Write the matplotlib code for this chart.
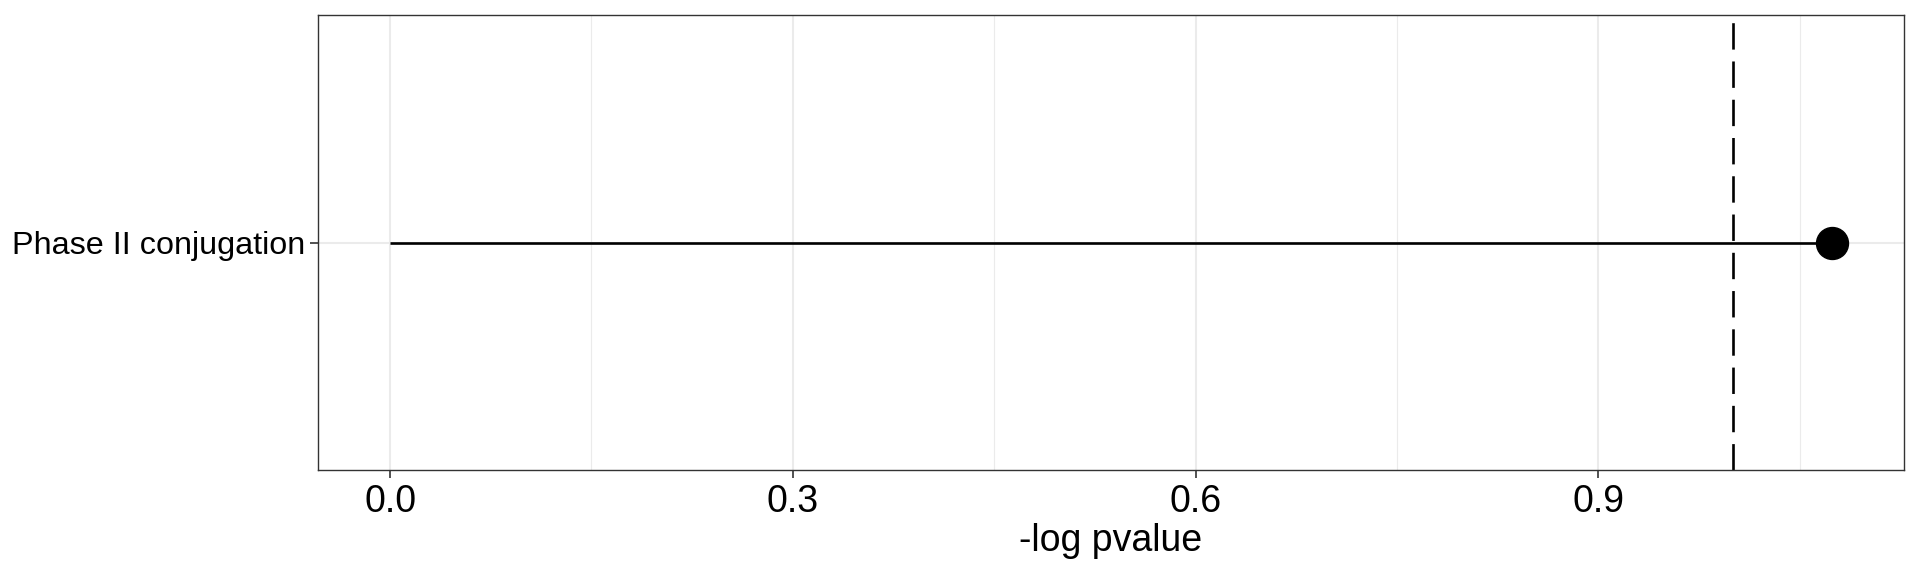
import matplotlib
matplotlib.use("Agg")
import matplotlib.pyplot as plt
from matplotlib.ticker import MultipleLocator

plt.rcParams['font.family'] = ['Liberation Sans', 'DejaVu Sans']

categories = ["Phase II conjugation"]
values = [1.074]
threshold = 1.0
xticks = [0.0, 0.3, 0.6, 0.9]
xlabel = "-log pvalue"

W, H = 1920, 576
fig = plt.figure(figsize=(W / 100, H / 100), dpi=100)
ax = fig.add_axes([318 / W, 1 - 470 / H, (1904 - 318) / W, (470 - 15) / H])

ypos = list(range(len(categories)))
vmax = max(values)
pad = 0.05 * vmax
ax.set_xlim(-pad, vmax + pad)
ax.set_ylim(-0.6, len(categories) - 1 + 0.6)

ax.set_xticks(xticks)
ax.set_xticklabels([f"{t:.1f}" for t in xticks])
ax.xaxis.set_minor_locator(MultipleLocator(0.15))
ax.set_yticks(ypos)
ax.set_yticklabels(categories)

ax.grid(which='major', color='#ebebeb', linewidth=1.5, zorder=0)
ax.grid(which='minor', axis='x', color='#ebebeb', linewidth=0.8, zorder=0)
ax.set_axisbelow(True)

for y, v in zip(ypos, values):
    ax.plot([0, v], [y, y], color='black', linewidth=1.9, zorder=2, solid_capstyle='butt')
ax.plot(values, ypos, 'o', color='black', markersize=23, zorder=3)
ax.axvline(threshold, color='black', linewidth=1.9, linestyle=(0, (10, 4.5)), zorder=2)

for s in ax.spines.values():
    s.set_color('#333333')
    s.set_linewidth(1.0)

ax.tick_params(axis='x', which='major', labelsize=27, length=6, width=1.2, color='#333333', pad=4)
ax.tick_params(axis='x', which='minor', length=0)
ax.tick_params(axis='y', labelsize=23.3, length=6, width=1.2, color='#333333', pad=3)
ax.set_xlabel(xlabel, fontsize=27, labelpad=2)

fig.savefig("out.png", dpi=100, facecolor='white')
